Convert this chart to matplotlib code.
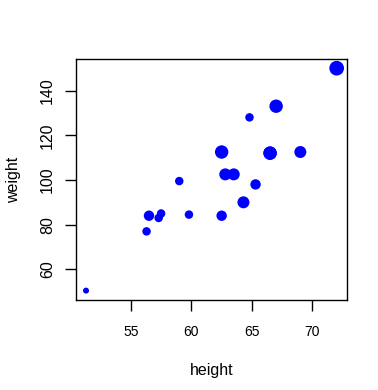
import matplotlib
matplotlib.use("Agg")
import matplotlib.pyplot as plt
import numpy as np

plt.rcParams['font.family'] = ['Liberation Sans', 'DejaVu Sans']

height = [69.0, 56.5, 65.3, 62.8, 63.5, 57.3, 59.8, 62.5, 62.5, 59.0,
          51.3, 64.3, 56.3, 66.5, 72.0, 64.8, 67.0, 57.5, 66.5]
weight = [112.5, 84.0, 98.0, 102.5, 102.5, 83.0, 84.5, 112.5, 84.0, 99.5,
          50.5, 90.0, 77.0, 112.0, 150.0, 128.0, 133.0, 85.0, 112.0]
age = [14, 13, 13, 14, 14, 12, 12, 15, 13, 12,
       11, 14, 12, 15, 16, 12, 15, 12, 15]

xticks = [55, 60, 65, 70]
yticks = [60, 80, 100, 120, 140]

fig = plt.figure(figsize=(3.78, 3.90), dpi=100)
ax = fig.add_axes([76/378, 1 - 299.5/390, (346.7-76)/378, (299.5-59.3)/390])

h = np.array(height); w = np.array(weight); a = np.array(age)
diam_px = 6.0 * np.sqrt(a - 10)
s = (diam_px * 0.72) ** 2
ax.scatter(h, w, s=s, color='#0000FF', edgecolors='none', zorder=3)

xr = h.max() - h.min(); yr = w.max() - w.min()
ax.set_xlim(h.min() - 0.04 * xr, h.max() + 0.04 * xr)
ax.set_ylim(w.min() - 0.04 * yr, w.max() + 0.04 * yr)

ax.set_xticks(xticks)
ax.set_yticks(yticks)
ax.set_xticklabels([str(t) for t in xticks], fontsize=11.5)
ax.set_yticklabels([str(t) for t in yticks], fontsize=11.5, rotation=90, va='center')
ax.tick_params(axis='both', direction='out', length=8, width=1, color='black', pad=10)
ax.tick_params(axis='y', pad=7)

for sp in ax.spines.values():
    sp.set_linewidth(1)
    sp.set_color('black')
ax.spines['bottom'].set_position(('outward', 0))

ax.set_xlabel('height', fontsize=11.5, labelpad=18)
ax.set_ylabel('weight', fontsize=11.5, labelpad=14)

fig.savefig('out.png', dpi=100)
